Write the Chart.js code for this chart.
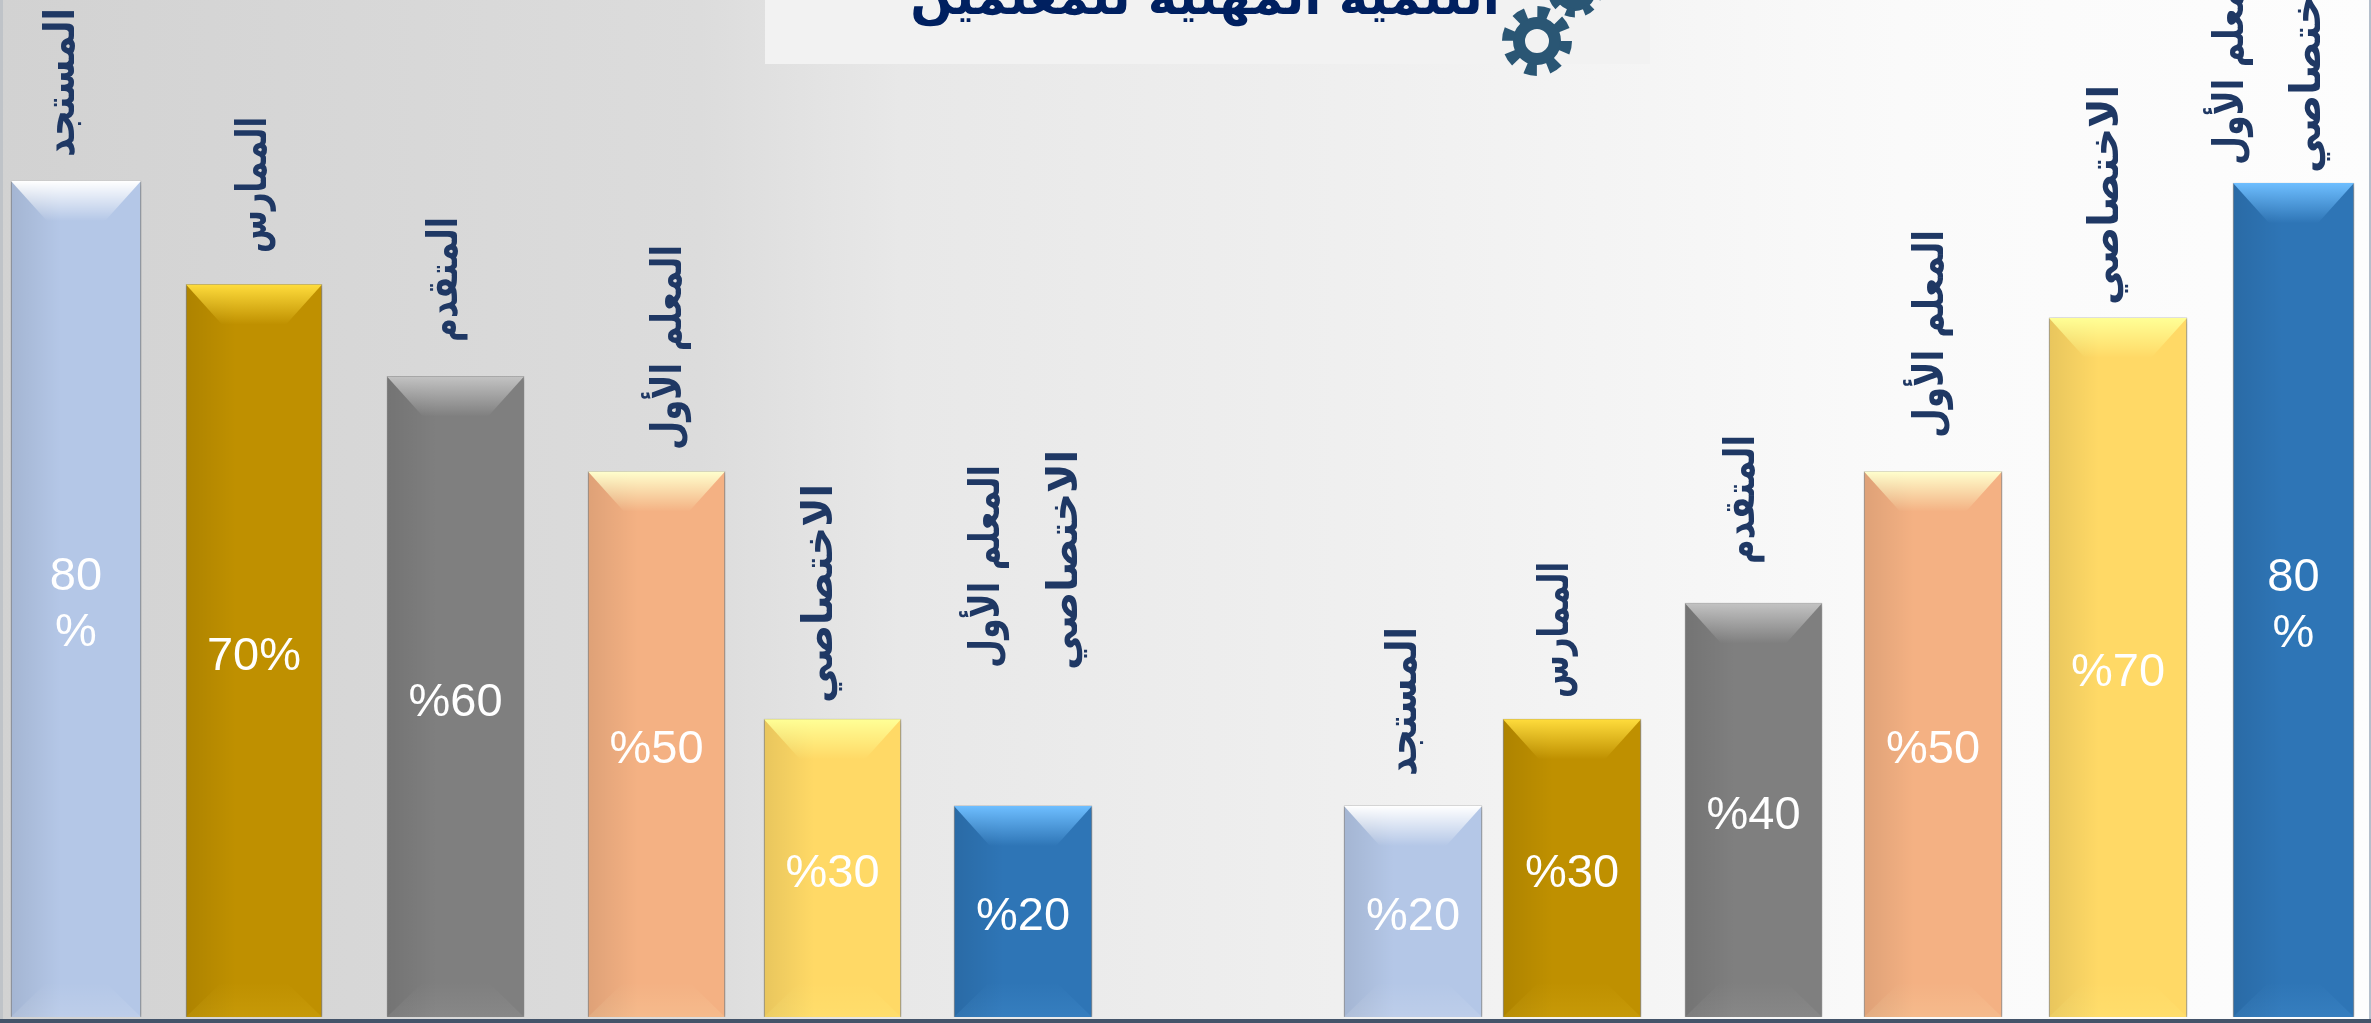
<!DOCTYPE html>
<html lang="ar">
<head>
<meta charset="utf-8">
<title>التنمية المهنية للمعلمين</title>
<script src="https://cdn.jsdelivr.net/npm/chart.js@4"></script>
<style>
  html, body { margin: 0; padding: 0; width: 2371px; height: 1023px; overflow: hidden; }
  body { position: relative; background: linear-gradient(90deg, #d2d2d2 0, #dcdcdc 700px, #e8e8e8 900px, #f0f0f0 1400px, #fafafa 1900px, #fdfdfd 2371px); }
  #chart { position: absolute; left: 0; top: 0; }
  #titleBox { position: absolute; left: 765px; top: 0; width: 885px; height: 64px; background: #f2f2f2; overflow: hidden; }
  #titleBox span { position: absolute; left: 145px; top: -32px; width: 590px; text-align: center; white-space: nowrap; direction: rtl;
    font: bold 50px "DejaVu Sans"; color: #002060; }
  #gears { position: absolute; left: 1490px; top: 0; }
  #edgeBottom { position: absolute; left: 0; top: 1019px; width: 2371px; height: 4px; background: #44546a; }
  #edgeLeft { position: absolute; left: 0; top: 0; width: 3px; height: 1019px; background: #bfc3c8; }
  #edgeRight { position: absolute; left: 2369px; top: 0; width: 2px; height: 1019px; background: #b4bfcc; }
</style>
</head>
<body>
<div id="titleBox"><span>التنمية المهنية للمعلمين</span></div>
<svg id="gears" width="130" height="85">
  <g fill="none" stroke="#2a5674">
    <circle cx="47" cy="41" r="18" stroke-width="12"/>
    <circle cx="47" cy="41" r="29" stroke-width="12" stroke-dasharray="11.4 11.4"/>
    <circle cx="85" cy="-10" r="15" stroke-width="12"/>
    <circle cx="85" cy="-10" r="23" stroke-width="9" stroke-dasharray="9 9"/>
  </g>
</svg>
<canvas id="chart" width="2371" height="1023"></canvas>
<div id="edgeBottom"></div>
<div id="edgeLeft"></div>
<div id="edgeRight"></div>
<script>
// Data
const categories = [
  ["المستجد"], ["الممارس"], ["المتقدم"], ["المعلم الأول"], ["الاختصاصي"], ["المعلم الأول", "الاختصاصي"],
  ["المستجد"], ["الممارس"], ["المتقدم"], ["المعلم الأول"], ["الاختصاصي"], ["المعلم الأول", "الاختصاصي"]
];
// printed on the bars
const valueLabels = [["80", "%"], ["70%"], ["%60"], ["%50"], ["%30"], ["%20"], ["%20"], ["%30"], ["%40"], ["%50"], ["%70"], ["80", "%"]];
// drawn bar heights, they do not follow the printed percentages exactly
const barValues = [80, 70.1, 61.3, 52.2, 28.5, 20.2, 20.2, 28.5, 39.6, 52.2, 66.9, 79.8];

// Layout: the slide's bars are hand placed, so they sit on a linear x axis (0-2371)
const barCenters = [76, 254, 455.5, 656.5, 832.5, 1023, 1413, 1572, 1753.5, 1933, 2118, 2293.5];
const barWidths = [130, 136, 137, 137, 137, 138, 138, 138, 137, 138, 138, 121];
const labelBaselines = [[74], [266], [457], [681], [832], [999, 1077], [1416], [1568], [1754], [1943], [2118], [2243, 2320]];
const labelBottoms = [[157], [253], [342], [450], [703], [668, 670], [776], [698], [564], [438], [305], [165, 173]];
const labelLengths = [[149], [136], [125], [205], [219], [203, 220], [149], [136], [129], [208], [220], [203, 220]];
const paletteNames = ["blue", "gold", "gray", "peach", "yellow", "steel", "blue", "gold", "gray", "peach", "yellow", "steel"];
const palette = {
  blue: { base: "#b4c7e7", light: "255,255,255" },
  gold: { base: "#bf9000", light: "255,220,60" },
  gray: { base: "#7f7f7f", light: "195,195,195" },
  peach: { base: "#f4b183", light: "255,255,205" },
  yellow: { base: "#ffd966", light: "255,255,150" },
  steel: { base: "#2e75b6", light: "110,190,255" }
};

// Bevel look of the bars, worked out from the bar elements
function drawBevel(ctx, bar, light) {
  const left = bar.x - bar.width / 2, right = bar.x + bar.width / 2;
  const top = bar.y, bottom = bar.base;
  const inset = 36, depth = 40;

  let g = ctx.createLinearGradient(left, 0, left + 50, 0);
  g.addColorStop(0, "rgba(0,0,0,0.09)");
  g.addColorStop(1, "rgba(0,0,0,0)");
  ctx.fillStyle = g;
  ctx.fillRect(left, top, 50, bottom - top);

  g = ctx.createLinearGradient(0, top, 0, top + depth);
  g.addColorStop(0, `rgba(${light},1)`);
  g.addColorStop(1, `rgba(${light},0)`);
  ctx.fillStyle = g;
  ctx.beginPath();
  ctx.moveTo(left, top);
  ctx.lineTo(right, top);
  ctx.lineTo(right - inset, top + depth);
  ctx.lineTo(left + inset, top + depth);
  ctx.closePath();
  ctx.fill();

  g = ctx.createLinearGradient(0, bottom - 35, 0, bottom);
  g.addColorStop(0, `rgba(${light},0)`);
  g.addColorStop(1, `rgba(${light},0.12)`);
  ctx.fillStyle = g;
  ctx.beginPath();
  ctx.moveTo(left, bottom);
  ctx.lineTo(right, bottom);
  ctx.lineTo(right - inset, bottom - 35);
  ctx.lineTo(left + inset, bottom - 35);
  ctx.closePath();
  ctx.fill();
}

const barDecor = {
  id: "barDecor",
  beforeDatasetDraw(chart) {
    const ctx = chart.ctx;
    ctx.save();
    ctx.shadowColor = "rgba(0,0,0,0.35)";
    ctx.shadowBlur = 5;
    ctx.shadowOffsetX = 1;
    ctx.shadowOffsetY = 1;
  },
  afterDatasetDraw(chart) {
    chart.ctx.restore();
  },
  afterDatasetsDraw(chart) {
    const ctx = chart.ctx;
    categories.forEach((lines, i) => {
      const bar = chart.getDatasetMeta(i).data[0];
      drawBevel(ctx, bar, palette[paletteNames[i]].light);

      // value printed in the middle of the bar
      ctx.save();
      ctx.fillStyle = "#ffffff";
      ctx.font = '47px "Liberation Sans"';
      ctx.textAlign = "center";
      ctx.textBaseline = "middle";
      const vl = valueLabels[i];
      const midY = (bar.y + bar.base) / 2 + 6;
      vl.forEach((t, k) => ctx.fillText(t, bar.x, midY + (k - (vl.length - 1) / 2) * 56));
      ctx.restore();

      // rotated role name above the bar, stretched to the length it has in the reference
      lines.forEach((t, k) => {
        ctx.save();
        ctx.translate(labelBaselines[i][k], labelBottoms[i][k]);
        ctx.rotate(-Math.PI / 2);
        ctx.fillStyle = "#1f3864";
        ctx.font = 'bold 42px "DejaVu Sans"';
        ctx.textAlign = "left";
        ctx.textBaseline = "alphabetic";
        ctx.scale(labelLengths[i][k] / ctx.measureText(t).width, 1);
        ctx.fillText(t, 0, 0);
        ctx.restore();
      });
    });
  }
};

new Chart(document.getElementById("chart").getContext("2d"), {
  type: "bar",
  data: {
    datasets: barValues.map((v, i) => ({
      label: categories[i].join(" "),
      data: [{ x: barCenters[i], y: v }],
      backgroundColor: palette[paletteNames[i]].base,
      borderColor: "rgba(120,120,120,0.6)",
      borderWidth: 1,
      barThickness: barWidths[i],
      grouped: false
    }))
  },
  options: {
    responsive: false,
    animation: false,
    layout: { padding: { left: 0, right: 0, top: 0, bottom: 6 } },
    plugins: { legend: { display: false }, tooltip: { enabled: false } },
    scales: {
      x: { type: "linear", min: 0, max: 2371, offset: false, display: false },
      y: { min: 0, max: 97.32, display: false }
    }
  },
  plugins: [barDecor]
});
</script>
</body>
</html>
